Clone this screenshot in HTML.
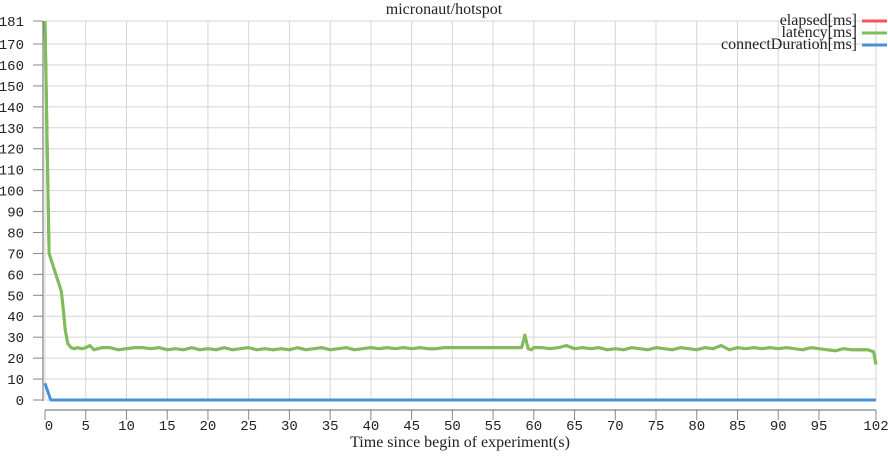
<!DOCTYPE html>
<html><head><meta charset="utf-8"><style>
body{margin:0;background:#fff;}
svg text{font-family:"Liberation Mono",monospace;font-size:14px;fill:#222;}
.serif{font-family:"Liberation Serif",serif !important;font-size:16px !important;}
</style></head><body>
<svg id="c" width="888" height="454" xmlns="http://www.w3.org/2000/svg"></svg>
<script>
const times=[0,0.5,1,1.5,2,2.2,2.5,2.8,3.2,3.6,4,4.5,5,5.5,6,6.5,7,8,9,10,11,12,13,14,15,16,17,18,19,20,21,22,23,24,25,26,27,28,29,30,31,32,33,34,35,36,37,38,39,40,41,42,43,44,45,46,47,48,49,50,51,52,53,54,55,56,57,58,58.5,58.9,59.3,59.7,60,61,62,63,64,65,66,67,68,69,70,71,72,73,74,75,76,77,78,79,80,81,82,83,84,85,86,87,88,89,90,91,92,93,94,95,96,97,98,99,100,101,101.7,102];
const latency=[181,70,64,58,52,45,33,27,25,24.5,25,24.5,25,26,24,24.5,25,25,24,24.5,25,25,24.5,25,24,24.5,24,25,24,24.5,24,25,24,24.5,25,24,24.5,24,24.5,24,25,24,24.5,25,24,24.5,25,24,24.5,25,24.5,25,24.5,25,24.5,25,24.5,24.5,25,25,25,25,25,25,25,25,25,25,25,31,24.5,24,25,25,24.5,25,26,24.5,25,24.5,25,24,24.5,24,25,24.5,24,25,24.5,24,25,24.5,24,25,24.5,26,24,25,24.5,25,24.5,25,24.5,25,24.5,24,25,24.5,24,23.5,24.5,24,24,24,23,17];
const connectTimes=[0,0.7,102];
const connect=[8,0,0];
const yTicks=[0,10,20,30,40,50,60,70,80,90,100,110,120,130,140,150,160,170,181];
const xTicks=[0,5,10,15,20,25,30,35,40,45,50,55,60,65,70,75,80,85,90,95,102];
const legend=["elapsed[ms]","latency[ms]","connectDuration[ms]"];
const legendColors=["#f4545a","#7bbf5a","#4a90d9"];

const svg=document.getElementById('c');const NS='http://www.w3.org/2000/svg';
const X0=45,X1=876,Y0=400,Y1=21;
const xs=v=>X0+(X1-X0)*v/102, ys=v=>Y0-(Y0-Y1)*v/181;
function mk(t,a,p){const e=document.createElementNS(NS,t);for(const k in a)e.setAttribute(k,a[k]);(p||svg).appendChild(e);return e;}
const grid=mk('g',{});
yTicks.forEach(v=>{const y=ys(v);
 const l=mk('line',{x1:X0,x2:X1,y1:y,y2:y,stroke:'#d6d6d6','stroke-width':1},grid);
 const t=mk('line',{x1:33,x2:43,y1:y,y2:y,stroke:'#888','stroke-width':1});
 const tx=mk('text',{x:24,y:y+5,'text-anchor':'end'});tx.textContent=v;});
xTicks.forEach(v=>{const x=xs(v);
 const l=mk('line',{x1:x,x2:x,y1:Y1,y2:Y0,stroke:'#d6d6d6','stroke-width':1},grid);
 const t=mk('line',{x1:x,x2:x,y1:410,y2:420,stroke:'#888','stroke-width':1});
 const tx=mk('text',{x:x+(v==0?4:0),y:430,'text-anchor':'middle'});tx.textContent=v;});
const ya=mk('line',{x1:43,x2:43,y1:Y1,y2:Y0+1,stroke:'#666','stroke-width':1});
const xa=mk('line',{x1:X0,x2:X1,y1:410,y2:410,stroke:'#666','stroke-width':1});
function line(tt,vv,col,name,w){const p=mk('polyline',{points:tt.map((t,i)=>xs(t)+','+ys(vv[i])).join(' '),fill:'none',stroke:col,'stroke-width':w,'stroke-linejoin':'round'});}
line(times,latency,legendColors[0],'elapsed-line',3);
line(times,latency,legendColors[1],'latency-line',3);
line(connectTimes,connect,legendColors[2],'connect-duration-line',3);
legend.forEach((s,i)=>{const y=22+i*12;
 const t=mk('text',{x:857,y:y+3,'text-anchor':'end',class:'serif'});t.textContent=s;
 const l=mk('line',{x1:862,x2:887,y1:y-1,y2:y-1,stroke:legendColors[i],'stroke-width':3});});
const ti=mk('text',{x:444,y:14,'text-anchor':'middle',class:'serif'});ti.textContent='micronaut/hotspot';
const xt=mk('text',{x:460,y:447,'text-anchor':'middle',class:'serif'});xt.textContent='Time since begin of experiment(s)';
</script>
</body></html>
